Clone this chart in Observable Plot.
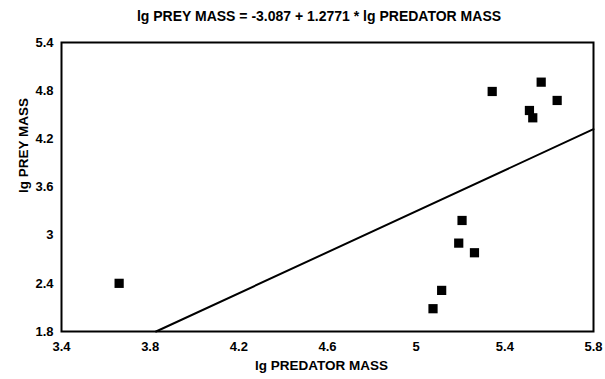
<!DOCTYPE html>
<html>
<head>
<meta charset="utf-8">
<script src="https://cdn.jsdelivr.net/npm/d3@7"></script>
<script src="https://cdn.jsdelivr.net/npm/@observablehq/plot@0.6"></script>
<style>
  html, body { margin: 0; padding: 0; background: #fff; }
  #wrap { width: 605px; height: 379px; position: relative; overflow: hidden; }
  #title { height: 30px; line-height: 32px; text-align: center; font-family: "Liberation Sans", Arial, sans-serif; font-weight: bold; font-size: 14px; color: #000; padding-left: 33px; box-sizing: border-box; white-space: nowrap; }
</style>
</head>
<body>
<div id="wrap">
  <div id="title">lg PREY MASS = -3.087 + 1.2771 * lg PREDATOR MASS</div>
  <div id="chart"></div>
</div>
<script>
const predatorMass = [3.66, 5.343, 5.564, 5.636, 5.511, 5.526, 5.207, 5.192, 5.263, 5.115, 5.076];
const preyMass     = [2.40, 4.79, 4.906, 4.678, 4.553, 4.462, 3.183, 2.901, 2.781, 2.312, 2.084];
const intercept = -3.087;
const slope = 1.2771;
const xTicks = [3.4, 3.8, 4.2, 4.6, 5, 5.4, 5.8];
const yTicks = [1.8, 2.4, 3, 3.6, 4.2, 4.8, 5.4];
const xDomain = [3.4, 5.8];
const yDomain = [1.8, 5.4];
const xLabel = "lg PREDATOR MASS";
const yLabel = "lg PREY MASS";

const points = predatorMass.map((x, i) => ({x, y: preyMass[i]}));
const xStart = Math.max(xDomain[0], (yDomain[0] - intercept) / slope);
const fit = [xStart, xDomain[1]].map(x => ({x, y: intercept + slope * x}));
const fmt = d => String(+(+d).toFixed(1));

const chart = Plot.plot({
  width: 605,
  height: 349,
  marginTop: 12,
  marginBottom: 48,
  marginLeft: 61,
  marginRight: 12,
  style: {fontFamily: "'Liberation Sans', Arial, sans-serif", fontSize: "13px", fontWeight: "bold", color: "#000", background: "#fff", overflow: "visible"},
  x: {domain: xDomain, ticks: xTicks, tickFormat: fmt},
  y: {domain: yDomain, ticks: yTicks, tickFormat: fmt},
  marks: [
    Plot.axisX({ticks: xTicks, tickFormat: fmt, tickSize: 0, tickPadding: 10, label: null, fontSize: 13}),
    Plot.axisY({ticks: yTicks, tickFormat: fmt, tickSize: 0, tickPadding: 8, label: null, fontSize: 13}),
    Plot.text([xLabel], {frameAnchor: "bottom", dy: 34, dx: -6, lineAnchor: "middle", text: d => d, fontSize: 13.5, fontWeight: "bold", fill: "#000"}),
    Plot.text([yLabel], {frameAnchor: "left", dx: -38, dy: 6, rotate: -90, lineAnchor: "middle", text: d => d, fontSize: 13.5, fontWeight: "bold", fill: "#000"}),
    Plot.line(fit, {x: "x", y: "y", stroke: "#000", strokeWidth: 2}),
    Plot.dot(points, {x: "x", y: "y", symbol: "square", r: 5.2, fill: "#000", stroke: "none"}),
    Plot.frame({stroke: "#000", strokeWidth: 2})
  ]
});
document.getElementById("chart").appendChild(chart);
</script>
</body>
</html>
